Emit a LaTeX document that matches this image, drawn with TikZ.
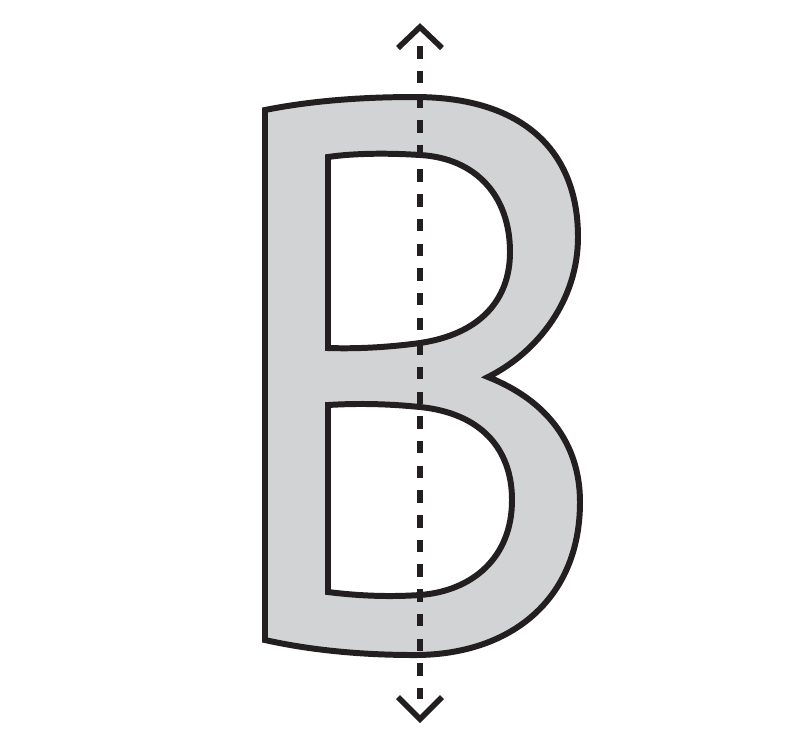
\documentclass[tikz,border=0pt]{standalone}
\begin{document}
\begin{tikzpicture}[x=0.01cm,y=-0.01cm,
  outline/.style={draw=ink,line width=1.7pt,line join=miter},
  axisline/.style={draw=ink,line width=1.6pt,dash pattern=on 3.55pt off 3.47pt},
  arrowhead/.style={draw=ink,line width=1.6pt,line join=miter,miter limit=10}]
\definecolor{ink}{HTML}{231F20}
\definecolor{letterfill}{HTML}{D1D3D4}
\useasboundingbox (0,0) rectangle (800,747);
% letter B
\path[outline,fill=letterfill,even odd rule]
  (265,110) .. controls (310,101) and (360,97) .. (415,97)
  .. controls (522,97) and (578,150) .. (578,237)
  .. controls (578,300) and (538,352) .. (488,377)
  .. controls (546,400) and (580,443) .. (580,502)
  .. controls (580,600) and (510,655) .. (415,655)
  .. controls (360,655) and (310,650) .. (265,640) -- cycle
  (328,157) -- (328,348)
  .. controls (360,349) and (390,347) .. (420,343)
  .. controls (480,334) and (510,300) .. (510,252)
  .. controls (510,195) and (475,158) .. (420,155)
  .. controls (390,153) and (355,153) .. (328,157) -- cycle
  (328,405) -- (328,592)
  .. controls (360,596) and (390,597) .. (420,595)
  .. controls (472,591) and (512,558) .. (512,500)
  .. controls (512,448) and (480,413) .. (420,407)
  .. controls (390,404) and (360,403) .. (328,405) -- cycle;
% symmetry axis
\coordinate (top) at (420,27);
\coordinate (bot) at (420,719);
\draw[axisline] (420,46) -- (420,699);
\draw[arrowhead] (398,48) -- (top) -- (442,48);
\draw[arrowhead] (398,697) -- (bot) -- (442,697);
\end{tikzpicture}
\end{document}
